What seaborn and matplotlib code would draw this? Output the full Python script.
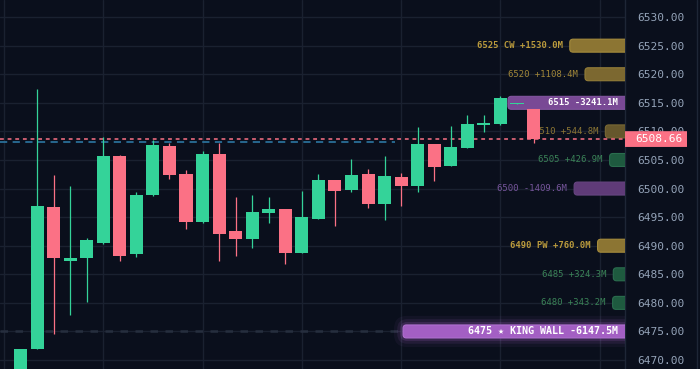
import numpy as np
import pandas as pd
import seaborn as sns
import matplotlib
matplotlib.use("Agg")
import matplotlib.pyplot as plt
import matplotlib.transforms as mtransforms
from matplotlib.patches import FancyBboxPatch, Rectangle
from matplotlib.colors import to_rgb

# ---------------- data ----------------
opens = [6466.0, 6471.9, 6496.8, 6487.3, 6487.8, 6490.5, 6505.7, 6488.5, 6498.9, 6507.4,
         6502.5, 6494.2, 6506.0, 6492.6, 6491.2, 6495.7, 6496.4, 6488.7, 6494.7, 6501.5,
         6499.7, 6502.5, 6497.3, 6502.0, 6500.4, 6507.8, 6503.9, 6507.1, 6511.1, 6511.3,
         6514.8, 6513.9]
highs = [6471.9, 6517.4, 6502.4, 6500.4, 6491.3, 6509.0, 6505.9, 6499.4, 6508.5, 6508.0,
         6503.2, 6506.6, 6508.0, 6498.5, 6498.9, 6498.5, 6496.4, 6499.6, 6502.5, 6501.5,
         6505.2, 6503.4, 6505.7, 6502.7, 6510.8, 6507.8, 6510.9, 6512.9, 6512.9, 6516.2,
         6514.95, 6513.9]
lows = [6465.0, 6471.9, 6474.5, 6477.9, 6480.2, 6490.3, 6487.3, 6488.0, 6498.7, 6501.7,
        6492.9, 6494.0, 6487.3, 6488.2, 6489.6, 6494.0, 6486.8, 6488.7, 6494.7, 6493.4,
        6499.4, 6496.6, 6494.5, 6497.0, 6499.4, 6501.3, 6503.9, 6507.1, 6509.9, 6511.1,
        6514.75, 6508.0]
closes = [6471.9, 6497.0, 6487.9, 6487.8, 6491.0, 6505.7, 6488.2, 6498.9, 6507.6, 6502.4,
          6494.2, 6506.0, 6492.0, 6491.2, 6495.9, 6496.4, 6488.7, 6495.0, 6501.5, 6499.6,
          6502.4, 6497.3, 6502.2, 6500.4, 6507.8, 6503.8, 6507.3, 6511.3, 6511.5, 6515.8,
          6514.9, 6508.66]

level_prices = [6525, 6520, 6515, 6510, 6505, 6500, 6490, 6485, 6480, 6475]
level_tags = ["CW", "", "", "", "", "", "PW", "", "", "\u2605 KING WALL"]
level_values = [1530.0, 1108.4, -3241.1, 544.8, 426.9, -1409.6, 760.0, 324.3, 343.2, -6147.5]

last_price = 6508.66
vwap_price = 6508.15
vwap_end = 22.6
tick_values = [6470, 6475, 6480, 6485, 6490, 6495, 6500, 6505, 6510, 6515, 6520, 6525, 6530]

# ---------------- style ----------------
BG = "#0a0f1c"
GRID = "#1a2130"
GREEN = "#34d399"
RED = "#fb7185"
TICKC = "#94a3b8"

sns.set_theme(style="dark", rc={"axes.facecolor": BG, "figure.facecolor": BG})
plt.rcParams["font.family"] = ["DejaVu Sans Mono", "DejaVu Sans"]

df = pd.DataFrame({"o": opens, "h": highs, "l": lows, "c": closes})
df["x"] = np.arange(len(df))
df["up"] = df["c"] >= df["o"]

fig = plt.figure(figsize=(7.0, 3.69), dpi=100, facecolor=BG)
ax = fig.add_axes([0, 0, 625 / 700, 1])
ax.set_facecolor(BG)

XMIN, XMAX = -1.239, 36.526
YMIN, YMAX = 6468.43, 6532.99
ax.set_xlim(XMIN, XMAX)
ax.set_ylim(YMIN, YMAX)

# grid
ax.set_xticks(np.arange(-1, 36, 6))
ax.set_yticks(tick_values)
ax.set_yticklabels([f"{v:.2f}" for v in tick_values])
ax.grid(True, color=GRID, lw=1.0, zorder=0)
ax.set_axisbelow(True)
ax.yaxis.tick_right()
ax.tick_params(axis="y", length=0, pad=9, labelsize=8, labelcolor=TICKC)
ax.tick_params(axis="x", length=0, labelbottom=False)
for s in ["left", "top", "bottom"]:
    ax.spines[s].set_visible(False)
ax.spines["right"].set_color("#1e2636")
ax.spines["right"].set_linewidth(1.0)
ax.plot([697 / 625, 697 / 625], [0, 1], transform=ax.transAxes, clip_on=False,
        color="#1e2636", lw=1.0)

# ---------------- level bars ----------------
bg_rgb = np.array(to_rgb(BG))


def blend(col, a):
    return tuple(bg_rgb + (np.array(to_rgb(col)) - bg_rgb) * a)


units_per_m = 13.41 / 6147.5
bar_h = 2.27
aspect = 2.9
max_neg = max(abs(v) for v in level_values if v < 0)

for price, tag, val in zip(level_prices, level_tags, level_values):
    length = abs(val) * units_per_m
    x0 = XMAX - length
    inside = abs(val) > 3000
    if val < 0:
        a = min(1.0, 0.42 + 0.58 * abs(val) / max_neg)
        fc = blend("#a35fc3", a)
        ec = blend("#b070d0", a)
        tc = "white" if inside else blend("#8a62b4", 0.85)
    elif val >= 500:
        a = 1.0 if tag else 0.55 + 0.45 * val / 1530.0
        fc = blend("#8c7533", a)
        ec = blend("#a68c3c", a)
        tc = blend("#c4a23e", 0.95 if tag else 0.6 + 0.3 * val / 1530.0)
    else:
        fc = "#1e5a3f"
        ec = "#2a6d4e"
        tc = "#3b8458"
    if "KING" in tag:
        for pad, al in [(0.55, 0.06), (0.35, 0.10), (0.18, 0.16)]:
            g = FancyBboxPatch((x0, price - bar_h / 2), length + 3, bar_h,
                               boxstyle=f"round,pad={pad},rounding_size={0.25 + pad}",
                               mutation_aspect=aspect, fc="#b36ad6", ec="none",
                               alpha=al, zorder=2.8)
            ax.add_patch(g)
    box = FancyBboxPatch((x0, price - bar_h / 2), length + 3, bar_h,
                         boxstyle="round,pad=0,rounding_size=0.2",
                         mutation_aspect=aspect, fc=fc, ec=ec, lw=0.8, zorder=3)
    ax.add_patch(box)
    label = f"{price} {tag} {val:+.1f}M" if tag else f"{price} {val:+.1f}M"
    if inside:
        tx = XMAX - 0.42
        size = 7.2 if "KING" in tag else 6.4
        weight = "bold"
    else:
        tx = x0 - 0.42
        size = 6.4
        weight = "bold" if tag else "normal"
    ax.text(tx, price, label, ha="right", va="center", fontsize=size,
            fontweight=weight, color=tc, zorder=3.5,
            family=["DejaVu Sans Mono", "DejaVu Sans"])

king_idx = [i for i, t in enumerate(level_tags) if "KING" in t][0]
king_left = XMAX - abs(level_values[king_idx]) * units_per_m
ax.hlines(level_prices[king_idx], XMIN, king_left - 0.1, color="#262e3e", lw=1.8,
          linestyles=(0, (3, 3)), zorder=1.5)

# ---------------- reference lines ----------------
ax.hlines(vwap_price, XMIN, vwap_end, color="#2a6f98", lw=1.3,
          linestyles=(0, (4, 3)), zorder=4)
ax.axhline(last_price, color=RED, lw=1.1, ls=(0, (2.5, 2.5)), zorder=4)

# ---------------- candles ----------------
colors = np.where(df["up"], GREEN, RED)
ax.vlines(df["x"], df["l"], df["h"], colors=colors, lw=0.9, zorder=5)
body_bottom = np.minimum(df["o"], df["c"])
body_h = np.maximum(np.abs(df["c"] - df["o"]), 0.18)
ax.bar(df["x"], body_h, bottom=body_bottom, width=0.79, color=colors,
       edgecolor="none", zorder=6)

# ---------------- last price tag ----------------
trans = mtransforms.blended_transform_factory(ax.transAxes, ax.transData)
tag_box = FancyBboxPatch((1.0, last_price - 1.38), 62 / 625, 2.76,
                         boxstyle="round,pad=0,rounding_size=0.004",
                         transform=trans, fc=RED, ec="none", clip_on=False,
                         zorder=10)
ax.add_patch(tag_box)
ax.text(1.0 + 10 / 625, last_price, f"{last_price:.2f}", transform=trans,
        ha="left", va="center", fontsize=8, color="white", zorder=11,
        clip_on=False)

fig.savefig("out.png", dpi=100, facecolor=BG)
